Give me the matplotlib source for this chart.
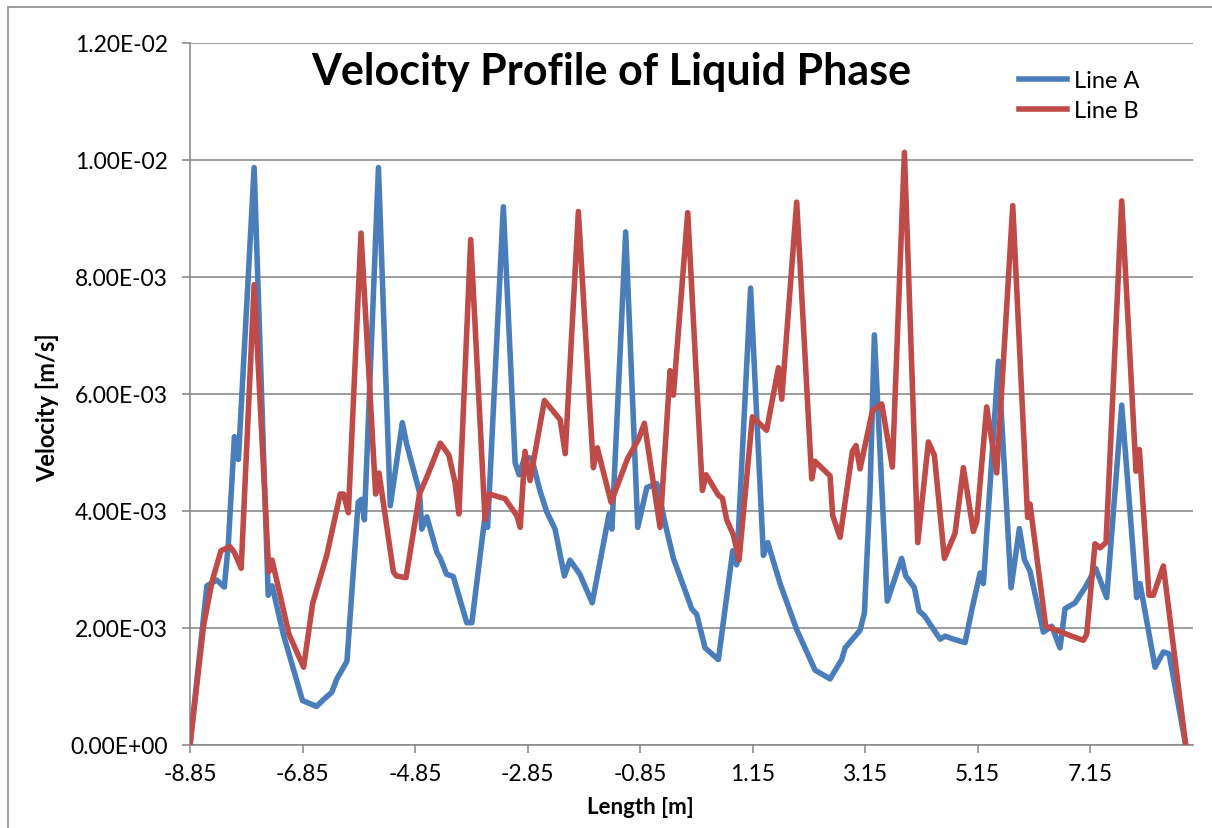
import matplotlib
matplotlib.use("Agg")
import matplotlib.pyplot as plt
from matplotlib.patches import Rectangle
from matplotlib.ticker import FuncFormatter, MultipleLocator

# Line A (blue): length [m], velocity [1e-3 m/s]
x_a = [-8.85, -8.55, -8.375, -8.24, -8.17, -8.06, -7.99, -7.71, -7.46, -7.39,
       -7.19, -6.85, -6.60, -6.45, -6.33, -6.24, -6.06, -5.86, -5.80, -5.75,
       -5.50, -5.29, -5.075, -5.00, -4.77, -4.73, -4.64, -4.46, -4.40, -4.29,
       -4.17, -3.93, -3.84, -3.605, -3.56, -3.28, -3.07, -3.00, -2.90, -2.775,
       -2.63, -2.51, -2.36, -2.195, -2.095, -1.92, -1.70, -1.40, -1.35, -1.105,
       -0.89, -0.73, -0.553, -0.405, -0.257, 0.069, 0.158, 0.306, 0.543, 0.798,
       0.869, 1.115, 1.343, 1.42, 1.64, 1.936, 2.261, 2.528, 2.735, 2.795,
       3.061, 3.139, 3.239, 3.316, 3.545, 3.80, 3.873, 4.027, 4.11,
       4.205, 4.484, 4.573, 4.721, 4.928, 5.059, 5.195, 5.254, 5.521, 5.746,
       5.894, 5.983, 6.083, 6.32, 6.468, 6.616, 6.705, 6.883, 7.061, 7.25,
       7.446, 7.713, 7.979, 8.038, 8.305, 8.453, 8.554, 8.85]
v_a = [0, 2.72, 2.82, 2.70, 3.42, 5.27, 4.88, 9.87, 2.56, 2.72,
       1.89, 0.76, 0.66, 0.80, 0.90, 1.13, 1.43, 4.15, 4.20, 3.85,
       9.87, 4.09, 5.51, 5.15, 4.32, 3.69, 3.90, 3.29, 3.19, 2.92,
       2.88, 2.09, 2.09, 3.92, 3.72, 9.20, 4.82, 4.62, 4.92, 4.90,
       4.35, 3.99, 3.69, 2.89, 3.16, 2.92, 2.43, 3.95, 3.69, 8.77,
       3.72, 4.40, 4.47, 3.79, 3.19, 2.33, 2.23, 1.66, 1.46, 3.32,
       3.08, 7.81, 3.24, 3.46, 2.76, 1.97, 1.28, 1.13, 1.46, 1.66,
       1.96, 2.26, 4.35, 7.01, 2.46, 3.19, 2.89, 2.69, 2.29,
       2.21, 1.81, 1.86, 1.81, 1.75, 2.36, 2.94, 2.76, 6.56, 2.69,
       3.70, 3.17, 2.97, 1.93, 2.03, 1.66, 2.33, 2.43, 2.69, 3.02,
       2.52, 5.81, 2.52, 2.76, 1.33, 1.59, 1.56, 0]

# Line B (red)
x_b = [-8.85, -8.61, -8.46, -8.30, -8.14, -8.06, -7.94, -7.71, -7.45, -7.39,
       -7.09, -6.83, -6.67, -6.42, -6.18, -6.12, -6.035, -5.81, -5.55, -5.49,
       -5.235, -5.18, -5.01, -4.77, -4.64, -4.40, -4.25, -4.14, -4.07, -3.86,
       -3.605, -3.53, -3.25, -3.04, -2.98, -2.895, -2.805, -2.55, -2.27, -2.18,
       -1.946, -1.68, -1.61, -1.365, -1.07, -0.88, -0.773, -0.494, -0.316, -0.257,
       -0.002, 0.258, 0.324, 0.543, 0.614, 0.691, 0.81, 0.91, 1.147, 1.40,
       1.61, 1.669, 1.935, 2.202, 2.261, 2.528, 2.575, 2.706, 2.925, 2.99,
       3.061, 3.281, 3.447, 3.636, 3.85, 4.087, 4.276, 4.383, 4.561, 4.75,
       4.898, 5.076, 5.136, 5.313, 5.491, 5.776, 6.04, 6.083, 6.361, 6.587,
       6.824, 7.031, 7.09, 7.238, 7.327, 7.434, 7.713, 7.967, 8.027, 8.198,
       8.275, 8.453, 8.85]
v_b = [0, 2.03, 2.79, 3.32, 3.39, 3.29, 3.02, 7.87, 2.96, 3.16,
       1.89, 1.33, 2.42, 3.24, 4.29, 4.29, 3.97, 8.75, 4.29, 4.65,
       2.96, 2.89, 2.86, 4.29, 4.58, 5.16, 4.96, 4.49, 3.95, 8.64,
       3.85, 4.29, 4.21, 3.92, 3.72, 5.02, 4.52, 5.89, 5.56, 4.98,
       9.12, 4.74, 5.08, 4.15, 4.90, 5.22, 5.50, 3.72, 6.40, 5.98,
       9.10, 4.35, 4.62, 4.27, 4.22, 3.85, 3.59, 3.16, 5.61, 5.38,
       6.45, 5.91, 9.28, 4.55, 4.85, 4.60, 3.92, 3.55, 5.02, 5.12,
       4.72, 5.71, 5.83, 4.75, 10.13, 3.46, 5.18, 4.95, 3.19, 3.62,
       4.74, 3.65, 3.82, 5.78, 4.65, 9.22, 3.89, 4.12, 2.03, 1.95,
       1.86, 1.79, 1.89, 3.44, 3.37, 3.46, 9.30, 4.68, 5.05, 2.56,
       2.56, 3.06, 0]

x_ticks = [-8.85, -6.85, -4.85, -2.85, -0.85, 1.15, 3.15, 5.15, 7.15]

plt.rcParams['font.family'] = ['Lato', 'DejaVu Sans']

fig = plt.figure(figsize=(12.12, 8.29), dpi=100)
ax = fig.add_axes([190 / 1212, 1 - 746 / 829, (1193 - 190) / 1212, 702 / 829])

ax.plot(x_a, [v * 1e-3 for v in v_a], color='#4A7EBB', lw=4.0, label='Line A',
        solid_joinstyle='round', zorder=3)
ax.plot(x_b, [v * 1e-3 for v in v_b], color='#BE4B48', lw=4.0, label='Line B',
        solid_joinstyle='round', zorder=3)

ax.set_xlim(-8.85, 8.98)
ax.set_ylim(0, 0.012)
ax.yaxis.set_major_locator(MultipleLocator(0.002))
ax.yaxis.set_major_formatter(FuncFormatter(lambda v, p: f"{v:.2E}"))
ax.set_xticks(x_ticks)
ax.set_xticklabels([f"{t:.2f}" for t in x_ticks])
ax.grid(axis='y', color='#8c8c8c', lw=1.2)
ax.set_axisbelow(True)

for side in ['top', 'right']:
    ax.spines[side].set_visible(False)
for side in ['left', 'bottom']:
    ax.spines[side].set_color('#8c8c8c')
    ax.spines[side].set_linewidth(1.2)
ax.tick_params(axis='both', direction='out', length=6, width=1.2, color='#8c8c8c',
               labelsize=16.5)
ax.tick_params(axis='y', pad=10)
ax.tick_params(axis='x', pad=7)

fig.text(640 / 1212, 1 - 808 / 829, 'Length [m]', ha='center', va='center',
         fontsize=16, fontweight='bold')
fig.text(47 / 1212, 1 - 408 / 829, 'Velocity [m/s]', ha='center', va='center',
         rotation=90, fontsize=17, fontweight='bold')

fig.text(611 / 1212, 1 - 72 / 829, 'Velocity Profile of Liquid Phase',
         ha='center', va='center', fontsize=31, fontweight='bold')

ax.legend(loc='upper left', bbox_to_anchor=(1007 / 1212, 1 - 59 / 829),
          bbox_transform=fig.transFigure, frameon=False, fontsize=17,
          handlelength=2.05, handletextpad=0.3, labelspacing=0.4, borderpad=0)

fig.patches.append(Rectangle((8 / 1212, -0.02), 1.05, 0.02 + 1 - 8 / 829,
                             transform=fig.transFigure, fill=False,
                             edgecolor='#8c8c8c', lw=1.2))

fig.savefig('out.png', dpi=100)
